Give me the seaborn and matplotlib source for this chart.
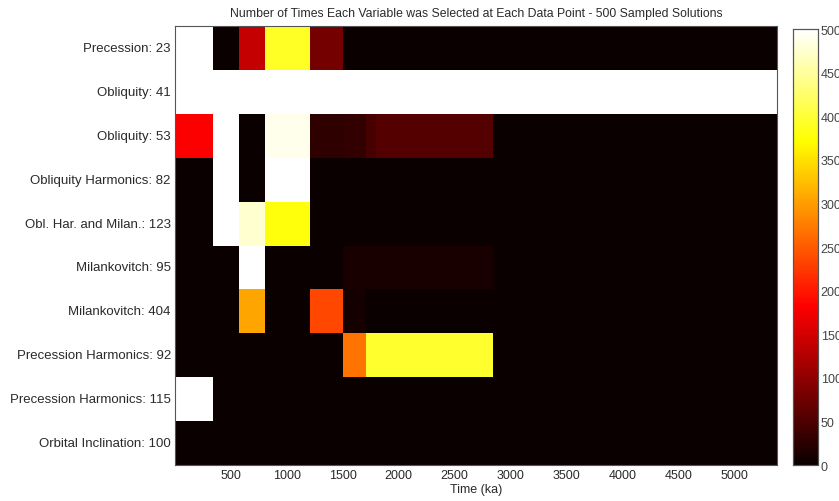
import numpy as np
import matplotlib
matplotlib.use("Agg")
import matplotlib.pyplot as plt
import seaborn as sns

# ── data ─────────────────────────────────────────────────────
# segment edges along time axis (ka), one value per segment and variable
edges_ka = [0, 340, 570, 800, 1210, 1500, 1710, 1800, 2840, 5380]

row_labels = [
    "Precession: 23",
    "Obliquity: 41",
    "Obliquity: 53",
    "Obliquity Harmonics: 82",
    "Obl. Har. and Milan.: 123",
    "Milankovitch: 95",
    "Milankovitch: 404",
    "Precession Harmonics: 92",
    "Precession Harmonics: 115",
    "Orbital Inclination: 100",
]

precession_23   = [500, 0, 140, 392, 80, 0, 0, 0, 0]
obliquity_41    = [500, 500, 500, 500, 500, 500, 500, 500, 500]
obliquity_53    = [180, 500, 0, 490, 28, 30, 45, 55, 0]
obl_harm_82     = [0, 500, 0, 500, 0, 0, 0, 0, 0]
obl_har_mil_123 = [0, 500, 475, 378, 0, 0, 0, 0, 0]
milank_95       = [0, 0, 500, 0, 0, 10, 10, 10, 0]
milank_404      = [0, 0, 305, 0, 235, 8, 0, 0, 0]
prec_harm_92    = [0, 0, 0, 0, 0, 268, 395, 395, 0]
prec_harm_115   = [500, 0, 0, 0, 0, 0, 0, 0, 0]
orbital_inc_100 = [0, 0, 0, 0, 0, 0, 0, 0, 0]

x_ticks = [500, 1000, 1500, 2000, 2500, 3000, 3500, 4000, 4500, 5000]
cbar_ticks = list(range(0, 501, 50))

BIN = 10  # ka per heatmap column

# ── build grid ───────────────────────────────────────────────
rows = [precession_23, obliquity_41, obliquity_53, obl_harm_82,
        obl_har_mil_123, milank_95, milank_404, prec_harm_92,
        prec_harm_115, orbital_inc_100]
widths = np.diff(edges_ka) // BIN
grid = np.array([np.repeat(r, widths) for r in rows], dtype=float)

# ── plot ─────────────────────────────────────────────────────
sns.set_style("white")
plt.rcParams["font.family"] = ["Liberation Sans", "DejaVu Sans"]
TXT = "#2a2a2a"

fig = plt.figure(figsize=(8.39, 5.02), dpi=100)
ax = fig.add_axes([0.2086, 0.0717, 0.7175, 0.8745])
cax = fig.add_axes([0.9452, 0.0717, 0.0298, 0.8685])

sns.heatmap(grid, cmap="hot", vmin=0, vmax=500, ax=ax, cbar_ax=cax,
            xticklabels=False, yticklabels=row_labels)

ax.set_xticks(np.array(x_ticks) / BIN)
ax.set_xticklabels([str(t) for t in x_ticks], rotation=0, fontsize=9)
ax.set_yticklabels(row_labels, rotation=0, fontsize=9.5)
ax.tick_params(direction="in", length=4, width=0.6, color="#555555",
               top=True, right=True, labelcolor=TXT, pad=3)
for s in ax.spines.values():
    s.set_visible(True)
    s.set_color("#555555")
    s.set_linewidth(0.8)

ax.set_title("Number of Times Each Variable was Selected at Each Data Point - 500 Sampled Solutions",
             fontsize=8.8, color=TXT, pad=7)
ax.set_xlabel("Time (ka)", fontsize=9, color=TXT, labelpad=1)

cax.set_yticks(cbar_ticks)
cax.set_yticklabels([str(t) for t in cbar_ticks])
cax.tick_params(direction="in", length=4, width=0.6, color="#555555",
                left=True, right=True, labelsize=9, labelcolor="#444444", pad=2)
for s in cax.spines.values():
    s.set_visible(True)
    s.set_color("#555555")
    s.set_linewidth(0.8)

fig.savefig("out.png", dpi=100)
plt.close(fig)
